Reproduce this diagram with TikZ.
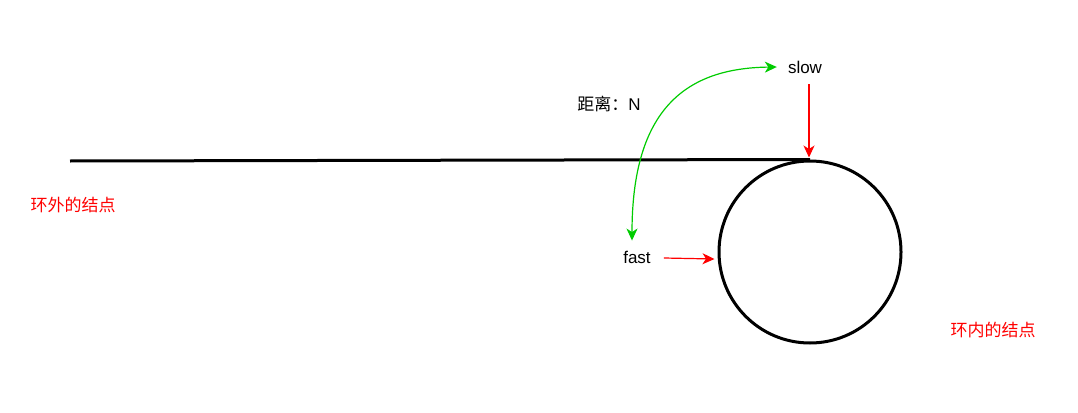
\documentclass[tikz,border=0pt]{standalone}
\usepackage{fontspec}
\setmainfont{Liberation Sans}
\newfontfamily\cjk{Noto Sans CJK SC}
\usetikzlibrary{arrows.meta}
\definecolor{lgreen}{HTML}{00CC00}
\definecolor{lred}{HTML}{FF0000}
\tikzset{
  lbl/.style={font=\fontsize{17}{19}\selectfont, inner sep=0pt},
  redlbl/.style={lbl, text=lred},
  thick line/.style={line width=3pt, black},
  ptr/.style={draw=lred, line width=1.2pt, -{Stealth[length=12pt,width=11pt,inset=3.5pt]}},
  gptr/.style={draw=lgreen, line width=1.2pt, {Stealth[length=12pt,width=11pt,inset=3.5pt]}-{Stealth[length=12pt,width=11pt,inset=3.5pt]}}
}
\begin{document}
\begin{tikzpicture}[x=1pt,y=-1pt]
\useasboundingbox (0,0) rectangle (1078,412);
\node[circle, draw, line width=3pt, minimum size=182pt, inner sep=0pt] (ring) at (810,252) {};
\coordinate (lstart) at (70,161);
\draw[thick line] (lstart) -- (ring.north);
\node[lbl] (slow) at (805,67) {slow};
\node[lbl] (fast) at (637,257) {fast};
\node[lbl] (dist) at (609,104) {{\cjk 距离：}N};
\node[redlbl] (outer) at (73,205) {\cjk 环外的结点};
\node[redlbl] (inner) at (993,330) {\cjk 环内的结点};
\draw[ptr] ([xshift=4pt,yshift=-11pt]slow.south) -- ([xshift=-1pt,yshift=2pt]ring.north);
\draw[ptr] ([xshift=13pt,yshift=-1pt]fast.east) -- ([xshift=-3pt,yshift=-7pt]ring.west);
\draw[gptr] ([xshift=-5pt,yshift=10pt]fast.north) .. controls (632,110) and (685,68) .. ([xshift=-11pt]slow.west);
\end{tikzpicture}
\end{document}
